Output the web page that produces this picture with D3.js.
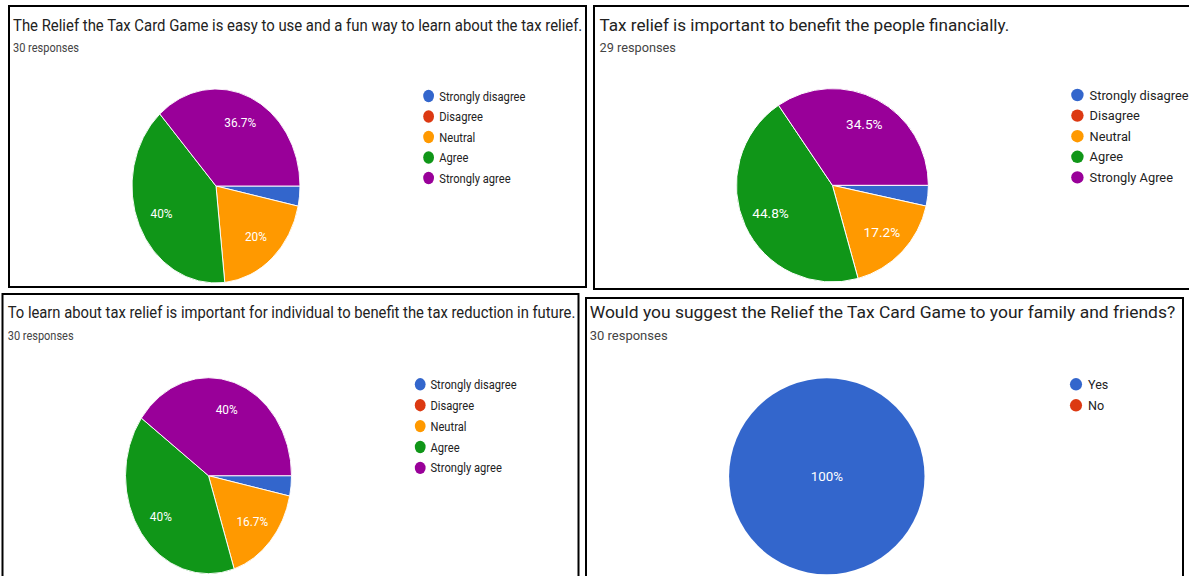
<!DOCTYPE html>
<html>
<head>
<meta charset="utf-8">
<script src="https://cdn.jsdelivr.net/npm/d3@7"></script>
<style>
  body { margin: 0; background: #fff; }
  svg { display: block; font-family: Roboto, Arial, sans-serif; }
</style>
</head>
<body>
<svg id="chart" width="1189" height="576"></svg>
<script>
// =========================
// DATA
// =========================

const titles = [
  'The Relief the Tax Card Game is easy to use and a fun way to learn about the tax relief.',
  'Tax relief is important to benefit the people financially.',
  'To learn about tax relief is important for individual to benefit the tax reduction in future.',
  'Would you suggest the Relief the Tax Card Game to your family and friends?'
];

const responses = [30, 29, 30, 30];

const likertLabels = ['Strongly disagree', 'Disagree', 'Neutral', 'Agree', 'Strongly agree'];
const likertLabelsAlt = ['Strongly disagree', 'Disagree', 'Neutral', 'Agree', 'Strongly Agree'];
const yesNoLabels = ['Yes', 'No'];

const easyToUse = [1, 0, 6, 12, 11];
const benefitFinancially = [1, 0, 5, 13, 10];
const learnForFuture = [1, 0, 5, 12, 12];
const suggestGame = [30, 0];

const sliceColors = ['#3366cc', '#dc3912', '#ff9900', '#109618', '#990099'];

// =========================
// LAYOUT (screen pixels)
// =========================

const panels = [
  {
    labels: likertLabels, values: easyToUse, sx: 0.87,
    box: [9, 6, 577, 281],
    title: [13, 31, 570], sub: [13, 52, 66],
    pie: [216, 186, 84, 97],
    legend: [428.6, 439.3, 96, 20.5]
  },
  {
    labels: likertLabelsAlt, values: benefitFinancially, sx: 1,
    box: [594, 6, 620, 283],
    title: [599.5, 30.7, 410], sub: [599.5, 51.7, 76.5],
    pie: [832.4, 185.3, 96, 96.7],
    legend: [1077.4, 1089.6, 95, 20.6]
  },
  {
    labels: likertLabels, values: learnForFuture, sx: 0.87,
    box: [2.5, 294, 576, 310],
    title: [7.7, 318.3, 568], sub: [7.7, 340, 66],
    pie: [208.5, 475.7, 83, 98],
    legend: [420.2, 430.5, 384.3, 20.9]
  },
  {
    labels: yesNoLabels, values: suggestGame, sx: 0.98,
    box: [586, 298, 597, 310],
    title: [589.7, 318.3, 586], sub: [589.7, 340, 78],
    pie: [826.8, 476.3, 97.7, 98],
    legend: [1076, 1088, 384.3, 21]
  }
];

const svg = d3.select('#chart');

// measure a string so that texts can be squeezed to the reference width
function fitScale(str, size, target) {
  const t = svg.append('text').style('font-size', size + 'px').text(str);
  const w = t.node().getComputedTextLength();
  t.remove();
  return target / w;
}

const legendK = fitScale('Strongly disagree', 13, 99);
const labelK = fitScale('34.5%', 12, 36.6);

const pie = d3.pie()
  .sort(null)
  .startAngle(Math.PI / 2)
  .endAngle(Math.PI / 2 + 2 * Math.PI);

panels.forEach((p, i) => {

  const g = svg.append('g');
  const total = d3.sum(p.values);

  g.append('rect')
    .attr('x', p.box[0])
    .attr('y', p.box[1])
    .attr('width', p.box[2])
    .attr('height', p.box[3])
    .attr('fill', '#fff')
    .attr('stroke', '#000')
    .attr('stroke-width', 2);

  const titleK = fitScale(titles[i], 17, p.title[2]);
  g.append('text')
    .attr('transform', `translate(${p.title[0]}, ${p.title[1]}) scale(${titleK}, 1)`)
    .attr('fill', '#222')
    .style('font-size', '17px')
    .text(titles[i]);

  const subText = `${responses[i]} responses`;
  const subK = fitScale(subText, 12, p.sub[2]);
  g.append('text')
    .attr('transform', `translate(${p.sub[0]}, ${p.sub[1]}) scale(${subK}, 1)`)
    .attr('fill', '#444')
    .style('font-size', '12px')
    .text(subText);

  // pie drawn as a circle of radius ry, stretched to rx horizontally
  const [cx, cy, rx, ry] = p.pie;
  const arc = d3.arc().innerRadius(0).outerRadius(ry);
  const labelArc = d3.arc().innerRadius(ry * 0.71).outerRadius(ry * 0.71);
  const arcs = pie(p.values);

  const pieG = g.append('g')
    .attr('transform', `translate(${cx}, ${cy}) scale(${rx / ry}, 1)`);

  pieG.selectAll('path')
    .data(arcs.filter(d => d.value > 0))
    .enter()
    .append('path')
    .attr('d', arc)
    .attr('fill', d => sliceColors[d.index])
    .attr('stroke', d => d.value === total ? 'none' : '#fff')
    .attr('stroke-width', 1);

  arcs.filter(d => d.value / total >= 0.05).forEach(d => {
    const pos = d.value === total ? [0, 0] : labelArc.centroid(d);
    const pct = Math.round(d.value / total * 1000) / 10;
    g.append('text')
      .attr('transform', `translate(${cx + pos[0] * rx / ry}, ${cy + pos[1]}) scale(${labelK * p.sx}, 1)`)
      .attr('text-anchor', 'middle')
      .attr('dy', '0.35em')
      .attr('fill', '#fff')
      .style('font-size', '12px')
      .text(`${pct}%`);
  });

  // legend
  const [lx, tx, ly, step] = p.legend;
  p.labels.forEach((label, j) => {
    g.append('ellipse')
      .attr('cx', lx)
      .attr('cy', ly + j * step)
      .attr('rx', 6.2 * p.sx)
      .attr('ry', 6.2)
      .attr('fill', sliceColors[j]);

    g.append('text')
      .attr('transform', `translate(${tx}, ${ly + j * step}) scale(${legendK * p.sx}, 1)`)
      .attr('dy', '0.35em')
      .attr('fill', '#222')
      .style('font-size', '13px')
      .text(label);
  });
});
</script>
</body>
</html>
